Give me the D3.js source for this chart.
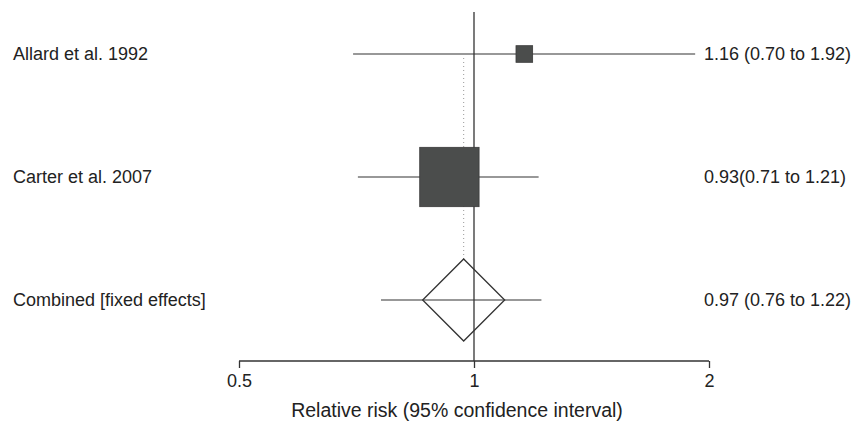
<!DOCTYPE html>
<html><head><meta charset="utf-8">
<script src="https://cdn.jsdelivr.net/npm/d3@7"></script>
<style>body{margin:0;background:#fff}svg{display:block}text{font-family:"Liberation Sans",Arial,sans-serif;fill:#222}</style>
</head><body><svg id="c" width="852" height="425"></svg>
<script>
const studies = ["Allard et al. 1992", "Carter et al. 2007"];
const rr = [1.16, 0.93];
const lower = [0.70, 0.71];
const upper = [1.92, 1.21];
const weights = [21.9, 78.1];
const studyLabels = ["1.16 (0.70 to 1.92)", "0.93(0.71 to 1.21)"];
const combinedName = "Combined [fixed effects]";
const combined = [0.97, 0.76, 1.22];
const combinedLabel = "0.97 (0.76 to 1.22)";
const ticks = [0.5, 1, 2];
const tickLabels = ["0.5", "1", "2"];
const axisTitle = "Relative risk (95% confidence interval)";

const svg = d3.select("#c");
const x = d3.scaleLog().domain([0.5, 2]).range([239, 709]);
const rows = studies.concat([combinedName]);
const y = d3.scalePoint().domain(rows).range([54, 300]);
const size = d3.scaleLinear().domain([0, 100]).range([0, 76]);
const axisY = 361;
const ink = "#333";
const dHalf = 41;

// reference line at 1
svg.append("line").attr("x1", x(1)).attr("x2", x(1)).attr("y1", 12).attr("y2", axisY)
  .attr("stroke", ink).attr("stroke-width", 1.3);
// dotted line at combined estimate
svg.append("line").attr("x1", x(combined[0])).attr("x2", x(combined[0]))
  .attr("y1", y(studies[0]) + 4).attr("y2", y(combinedName) - dHalf)
  .attr("stroke", "#999").attr("stroke-width", 1).attr("stroke-dasharray", "1,3");

// study CIs and boxes
studies.forEach((s, i) => {
  svg.append("line").attr("x1", x(lower[i])).attr("x2", x(upper[i]))
    .attr("y1", y(s)).attr("y2", y(s)).attr("stroke", ink).attr("stroke-width", 1.2);
  const b = size(weights[i]);
  svg.append("rect").attr("x", x(rr[i]) - b / 2).attr("y", y(s) - b / 2)
    .attr("width", b).attr("height", b).attr("fill", "#4b4d4c").attr("stroke", "#3a3a3a").attr("stroke-width", 0.8);
  svg.append("text").attr("x", 13).attr("y", y(s)).attr("dy", "0.35em").attr("font-size", 18).text(s);
  svg.append("text").attr("x", 704).attr("y", y(s)).attr("dy", "0.35em").attr("font-size", 18).text(studyLabels[i]);
});

// combined
const cy = y(combinedName), cx = x(combined[0]);
svg.append("line").attr("x1", x(combined[1])).attr("x2", x(combined[2]))
  .attr("y1", cy).attr("y2", cy).attr("stroke", ink).attr("stroke-width", 1.2);
svg.append("path").attr("d", `M${cx},${cy - dHalf}L${cx + dHalf},${cy}L${cx},${cy + dHalf}L${cx - dHalf},${cy}Z`)
  .attr("fill", "none").attr("stroke", ink).attr("stroke-width", 1.3);
svg.append("text").attr("x", 13).attr("y", cy).attr("dy", "0.35em").attr("font-size", 18).text(combinedName);
svg.append("text").attr("x", 704).attr("y", cy).attr("dy", "0.35em").attr("font-size", 18).text(combinedLabel);

// axis
const axis = d3.axisBottom(x).tickValues(ticks).tickFormat((d, i) => tickLabels[i]).tickSize(7).tickPadding(6).tickSizeOuter(0);
const g = svg.append("g").attr("transform", `translate(0,${axisY})`).call(axis);
g.select(".domain").attr("stroke", ink).attr("stroke-width", 1.3).attr("d", `M${x(0.5)},0H${x(2)}`);
g.selectAll(".tick line").attr("stroke", ink).attr("stroke-width", 1.3).attr("y1", 0).attr("y2", 7);
g.selectAll(".tick text").attr("font-size", 18).attr("fill", "#222").style("font-family", '"Liberation Sans",Arial,sans-serif');
svg.append("text").attr("x", x(1) - 17).attr("y", 410).attr("dy", "0.35em").attr("text-anchor", "middle")
  .attr("font-size", 19.5).text(axisTitle);
</script></body></html>
